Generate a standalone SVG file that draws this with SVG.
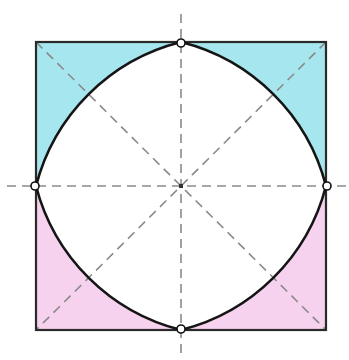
<svg xmlns="http://www.w3.org/2000/svg" width="349" height="360" viewBox="0 0 349 360">
<style>
.dash{stroke:#8a8a8a;stroke-width:1.6;stroke-dasharray:9 6;fill:none}
.pt{fill:#fff;stroke:#111;stroke-width:1.6}
</style>
<rect width="349" height="360" fill="#fff"/>
<g id="fills">
<path d="M36,42 L181,42 A200,200 0 0 0 36,186 Z" fill="#a6e6ee"/>
<path d="M181,42 L326,42 L326,186 A200,200 0 0 0 181,42 Z" fill="#a6e6ee"/>
<path d="M36,186 A200,200 0 0 0 181,330 L36,330 Z" fill="#f6d2ee"/>
<path d="M326,186 L326,330 L181,330 A200,200 0 0 0 326,186 Z" fill="#f6d2ee"/>
</g>
<g id="axes">
<line class="dash" x1="181" y1="14" x2="181" y2="358"/>
<line class="dash" x1="7" y1="186" x2="349" y2="186"/>
<line class="dash" x1="36" y1="42" x2="326" y2="330"/>
<line class="dash" x1="326" y1="42" x2="36" y2="330"/>
</g>
<g id="square">
<rect x="36" y="42" width="290" height="288" fill="none" stroke="#2a2a2a" stroke-width="2.2"/>
</g>
<g id="oval">
<path d="M181,42 A200,200 0 0 1 326,186 A200,200 0 0 1 181,330 A200,200 0 0 1 36,186 A200,200 0 0 1 181,42 Z" fill="none" stroke="#151515" stroke-width="2.6"/>
</g>
<g id="points">
<circle class="pt" cx="181" cy="43" r="4"/>
<circle class="pt" cx="35" cy="186" r="4"/>
<circle class="pt" cx="327" cy="186" r="4"/>
<circle class="pt" cx="181" cy="329" r="4"/>
<rect x="179" y="184" width="4" height="4" fill="#333"/>
</g>
</svg>
